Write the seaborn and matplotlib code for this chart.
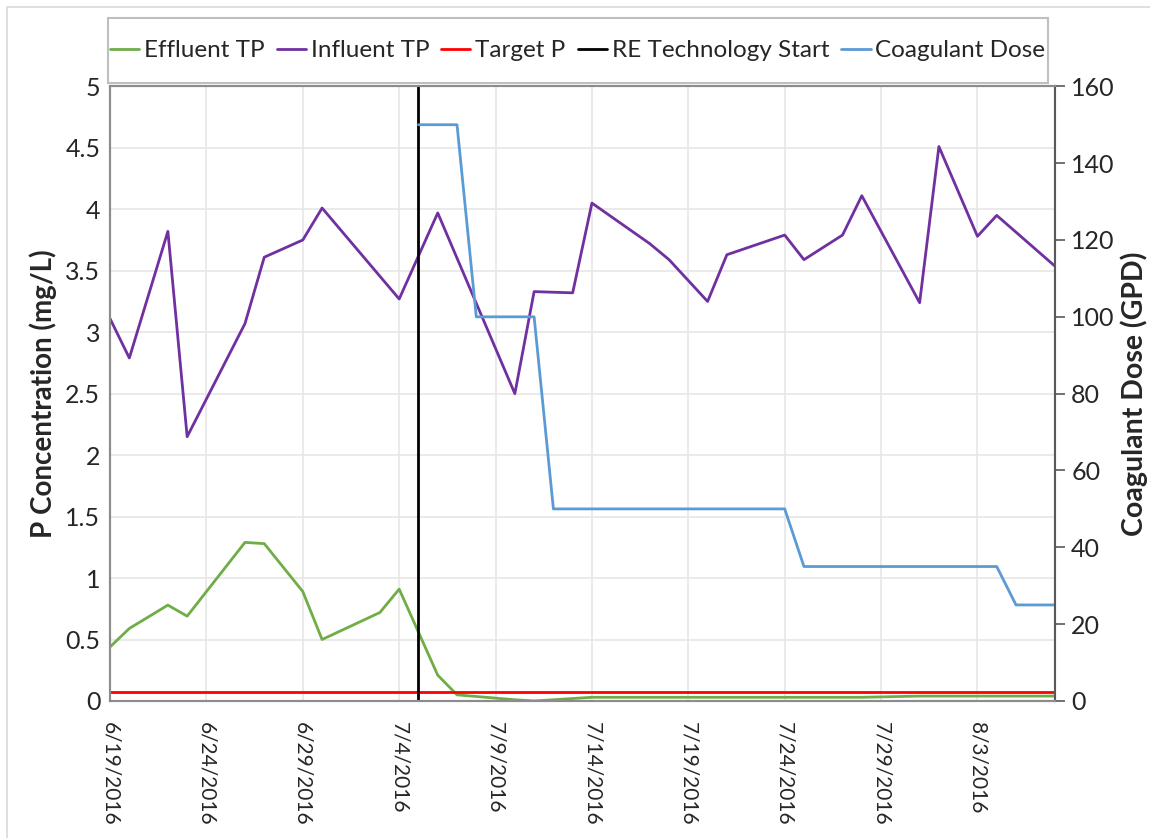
import pandas as pd
import seaborn as sns
import numpy as np
import matplotlib.pyplot as plt
from matplotlib.patches import Rectangle
from matplotlib.lines import Line2D

sns.set_style("white")
plt.rcParams['font.family'] = ['Lato', 'DejaVu Sans']

#### data
inf_dates = ['2016-06-19', '2016-06-20', '2016-06-22', '2016-06-23', '2016-06-26', '2016-06-27',
             '2016-06-29', '2016-06-30', '2016-07-04', '2016-07-06', '2016-07-10', '2016-07-11',
             '2016-07-13', '2016-07-14', '2016-07-17', '2016-07-18', '2016-07-20', '2016-07-21',
             '2016-07-24', '2016-07-25', '2016-07-27', '2016-07-28', '2016-07-31', '2016-08-01',
             '2016-08-03', '2016-08-04', '2016-08-07']
inf_tp = [3.11, 2.79, 3.82, 2.15, 3.07, 3.61, 3.75, 4.01, 3.27, 3.97, 2.50, 3.33, 3.32, 4.05,
          3.72, 3.59, 3.25, 3.63, 3.79, 3.59, 3.79, 4.11, 3.24, 4.51, 3.78, 3.95, 3.54]

eff_dates = ['2016-06-19', '2016-06-20', '2016-06-22', '2016-06-23', '2016-06-26', '2016-06-27',
             '2016-06-29', '2016-06-30', '2016-07-03', '2016-07-04', '2016-07-06', '2016-07-07',
             '2016-07-10', '2016-07-11', '2016-07-13', '2016-07-14', '2016-07-17', '2016-07-18',
             '2016-07-20', '2016-07-21', '2016-07-24', '2016-07-25', '2016-07-27', '2016-07-28',
             '2016-07-31', '2016-08-01', '2016-08-03', '2016-08-04', '2016-08-07']
eff_tp = [0.44, 0.59, 0.78, 0.69, 1.29, 1.28, 0.89, 0.50, 0.72, 0.91, 0.21, 0.05, 0.01, 0.00,
          0.02, 0.03, 0.03, 0.03, 0.03, 0.03, 0.03, 0.03, 0.03, 0.03, 0.04, 0.04, 0.04, 0.04, 0.04]

dose_dates = ['2016-07-05', '2016-07-07', '2016-07-08', '2016-07-11', '2016-07-12',
              '2016-07-24', '2016-07-25', '2016-08-04', '2016-08-05', '2016-08-07']
dose_gpd = [150, 150, 100, 100, 50, 50, 35, 35, 25, 25]

target_dates = ['2016-06-19', '2016-08-07']
target_p = [0.07, 0.07]

start_dates = ['2016-07-05', '2016-07-05']
start_y = [0, 5]

green = '#70AD47'
purple = '#7030A0'
red = '#FF0000'
blue = '#5B9BD5'

fig, ax1 = plt.subplots(figsize=(11.5, 8.38), dpi=100)
fig.subplots_adjust(left=0.0957, right=0.917, top=0.897, bottom=0.1635)
ax2 = ax1.twinx()

lw = 2.0
sns.lineplot(x=pd.to_datetime(eff_dates), y=eff_tp, color=green, lw=lw, label='Effluent TP', ax=ax1)
sns.lineplot(x=pd.to_datetime(inf_dates), y=inf_tp, color=purple, lw=lw, label='Influent TP', ax=ax1)
sns.lineplot(x=pd.to_datetime(target_dates), y=target_p, color=red, lw=lw, label='Target P', ax=ax1)
sns.lineplot(x=pd.to_datetime(start_dates), y=start_y, color='black', lw=lw, estimator=None, sort=False,
             label='RE Technology Start', ax=ax1)
sns.lineplot(x=pd.to_datetime(dose_dates), y=dose_gpd, color=blue, lw=lw, label='Coagulant Dose', ax=ax2)

# axes
ax1.set_ylim(0, 5)
ax1.set_yticks(np.arange(0, 5.01, 0.5))
ax1.set_yticklabels(['0', '0.5', '1', '1.5', '2', '2.5', '3', '3.5', '4', '4.5', '5'])
ax2.set_ylim(0, 160)
ax2.set_yticks(range(0, 161, 20))

ticks = pd.date_range('2016-06-19', '2016-08-07', freq='5D')
ax1.set_xlim(pd.Timestamp('2016-06-19'), pd.Timestamp('2016-08-07'))
ax1.set_xticks(ticks)
ax1.set_xticklabels([f'{d.month}/{d.day}/{d.year}' for d in ticks], rotation=-90, va='top', ha='center')

ax1.grid(True, color='#e6e6e6', lw=1.2)
ax1.set_axisbelow(True)
ax2.grid(False)

for a in (ax1, ax2):
    for s in a.spines.values():
        s.set_color('#8c8c8c')
        s.set_linewidth(1.5)
ax2.spines['right'].set_color('#595959')

ax1.tick_params(axis='y', length=0, labelsize=18, colors='#262626', pad=7)
ax1.tick_params(axis='x', length=0, labelsize=15, colors='#262626', pad=15)
ax2.tick_params(axis='y', length=7, width=1.2, direction='out', color='#595959', labelsize=18,
                labelcolor='#262626', pad=5)

ax1.set_xlabel('')
ax1.set_ylabel('P Concentration (mg/L)', fontsize=20, fontweight='bold', labelpad=6)
ax2.set_ylabel('Coagulant Dose (GPD)', fontsize=20.5, fontweight='bold', labelpad=4)

# legend in a box on top
h1, l1 = ax1.get_legend_handles_labels()
h2, l2 = ax2.get_legend_handles_labels()
if ax1.legend_:
    ax1.legend_.remove()
ax2.legend(h1 + h2, l1 + l2, loc='center', bbox_to_anchor=(0.495, 1.058), ncol=5, frameon=False,
           fontsize=17.5, handlelength=1.2, handletextpad=0.2, columnspacing=0.5)
ax2.add_patch(Rectangle((-0.002, 1.005), 0.995, 0.106, transform=ax2.transAxes, fill=False,
                        edgecolor='#bfbfbf', lw=1.5, clip_on=False))

# outer chart border (left and top edges visible)
fig.add_artist(Line2D([7 / 1150, 7 / 1150, 1.0], [0.0, 1 - 7 / 838, 1 - 7 / 838],
                      transform=fig.transFigure, color='#d9d9d9', lw=1.2))

fig.savefig('out.png')
